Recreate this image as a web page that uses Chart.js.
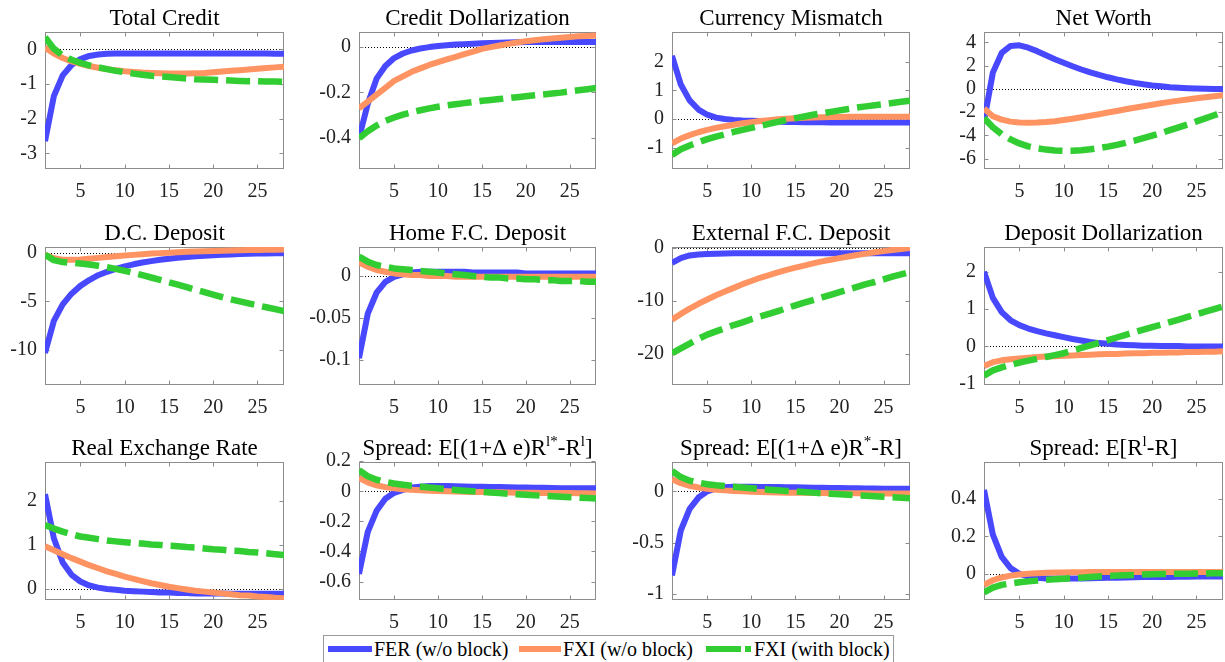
<!DOCTYPE html>
<html>
<head>
<meta charset="utf-8">
<script src="https://cdn.jsdelivr.net/npm/chart.js@4.4.1/dist/chart.umd.min.js"></script>
<style>
  body { margin: 0; background: #fff; width: 1225px; height: 662px; overflow: hidden; position: relative; font-family: 'Liberation Serif', serif; }
  canvas { position: absolute; }
  #legend { position: absolute; left: 323px; top: 635px; width: 569px; height: 26px; border: 1px solid #999; background: #fff; }
  #legend svg { position: absolute; top: 9px; }
  #legend span { position: absolute; top: 2px; font-size: 20px; line-height: 22px; color: #000; white-space: nowrap; }
</style>
</head>
<body>
<div id="legend">
  <svg style="left:4px" width="44" height="8"><line x1="0" y1="4" x2="44" y2="4" stroke="rgb(72,72,255)" stroke-width="6"/></svg>
  <span style="left:50px">FER (w/o block)</span>
  <svg style="left:195px" width="42" height="8"><line x1="0" y1="4" x2="42" y2="4" stroke="rgb(255,148,98)" stroke-width="6"/></svg>
  <span style="left:239px">FXI (w/o block)</span>
  <svg style="left:382px" width="45" height="8"><line x1="0" y1="4" x2="45" y2="4" stroke="rgb(50,205,50)" stroke-width="6" stroke-dasharray="35 4"/></svg>
  <span style="left:430px">FXI (with block)</span>
</div>
<script>
const periods = [1,2,3,4,5,6,7,8,9,10,11,12,13,14,15,16,17,18,19,20,21,22,23,24,25,26,27,28];
const xTicks = [5, 10, 15, 20, 25];

// Total Credit
const totalCreditFER = [-2.65,-1.35,-0.75,-0.45,-0.28,-0.19,-0.15,-0.13,-0.12,-0.12,-0.12,-0.12,-0.12,-0.12,-0.12,-0.12,-0.12,-0.12,-0.12,-0.12,-0.12,-0.12,-0.12,-0.12,-0.12,-0.12,-0.13,-0.13];
const totalCreditFXI = [0.05,-0.12,-0.25,-0.35,-0.42,-0.48,-0.53,-0.57,-0.6,-0.63,-0.65,-0.67,-0.68,-0.69,-0.7,-0.7,-0.7,-0.69,-0.68,-0.66,-0.64,-0.62,-0.6,-0.58,-0.56,-0.54,-0.52,-0.5];
const totalCreditBlock = [0.35,0.02,-0.18,-0.3,-0.39,-0.46,-0.52,-0.57,-0.62,-0.66,-0.7,-0.73,-0.76,-0.78,-0.8,-0.82,-0.84,-0.86,-0.87,-0.88,-0.89,-0.9,-0.91,-0.92,-0.92,-0.93,-0.93,-0.94];
const totalCreditTicks = [-3, -2, -1, 0];
const totalCreditRange = [-3.45, 0.5];

// Credit Dollarization
const creditDollarFER = [-0.4,-0.25,-0.14,-0.085,-0.05,-0.03,-0.017,-0.008,-0.002,0.003,0.006,0.009,0.011,0.013,0.015,0.016,0.017,0.018,0.019,0.02,0.02,0.02,0.02,0.02,0.02,0.02,0.02,0.02];
const creditDollarFXI = [-0.27,-0.24,-0.21,-0.18,-0.15,-0.13,-0.11,-0.095,-0.08,-0.068,-0.056,-0.045,-0.033,-0.022,-0.01,-0.002,0.005,0.012,0.018,0.024,0.028,0.032,0.036,0.039,0.042,0.045,0.047,0.049];
const creditDollarBlock = [-0.4,-0.37,-0.345,-0.325,-0.31,-0.297,-0.287,-0.278,-0.27,-0.263,-0.257,-0.252,-0.247,-0.242,-0.237,-0.233,-0.229,-0.225,-0.221,-0.217,-0.213,-0.209,-0.205,-0.201,-0.196,-0.191,-0.186,-0.181];
const creditDollarTicks = [-0.4, -0.2, 0];
const creditDollarRange = [-0.535, 0.064];

// Currency Mismatch
const mismatchFER = [2.2,1.2,0.65,0.33,0.15,0.05,0.0,-0.03,-0.05,-0.06,-0.07,-0.08,-0.09,-0.1,-0.1,-0.11,-0.11,-0.11,-0.12,-0.12,-0.12,-0.12,-0.12,-0.12,-0.12,-0.12,-0.12,-0.12];
const mismatchFXI = [-0.85,-0.68,-0.56,-0.46,-0.38,-0.31,-0.25,-0.2,-0.15,-0.11,-0.07,-0.04,-0.01,0.01,0.03,0.04,0.05,0.06,0.07,0.07,0.08,0.08,0.08,0.08,0.08,0.08,0.08,0.08];
const mismatchBlock = [-1.25,-1.05,-0.92,-0.81,-0.7,-0.61,-0.53,-0.45,-0.38,-0.31,-0.24,-0.17,-0.1,-0.03,0.03,0.09,0.15,0.2,0.25,0.3,0.35,0.4,0.44,0.48,0.52,0.56,0.6,0.64];
const mismatchTicks = [-1, 0, 1, 2];
const mismatchRange = [-1.74, 3.03];

// Net Worth
const netWorthFER = [-2.8,1.4,3.1,3.7,3.75,3.55,3.25,2.9,2.55,2.25,1.95,1.67,1.42,1.2,1.0,0.82,0.66,0.52,0.4,0.3,0.22,0.15,0.1,0.06,0.03,0.01,0.0,-0.01];
const netWorthFXI = [-1.7,-2.35,-2.65,-2.82,-2.9,-2.92,-2.9,-2.85,-2.78,-2.68,-2.57,-2.45,-2.32,-2.18,-2.04,-1.9,-1.76,-1.62,-1.49,-1.36,-1.24,-1.12,-1.01,-0.91,-0.81,-0.72,-0.63,-0.55];
const netWorthBlock = [-2.5,-3.3,-3.9,-4.35,-4.7,-4.95,-5.12,-5.23,-5.3,-5.33,-5.32,-5.28,-5.2,-5.1,-4.97,-4.82,-4.65,-4.46,-4.25,-4.03,-3.8,-3.56,-3.31,-3.06,-2.8,-2.54,-2.27,-2.0];
const netWorthTicks = [-6, -4, -2, 0, 2, 4];
const netWorthRange = [-6.9, 4.9];

// D.C. Deposit
const dcDepositFER = [-10.3,-7.0,-5.3,-4.2,-3.4,-2.8,-2.3,-1.95,-1.65,-1.4,-1.18,-1.0,-0.85,-0.72,-0.6,-0.5,-0.42,-0.35,-0.29,-0.24,-0.2,-0.16,-0.13,-0.1,-0.08,-0.06,-0.05,-0.04];
const dcDepositFXI = [-0.2,-0.55,-0.7,-0.72,-0.68,-0.6,-0.52,-0.44,-0.36,-0.28,-0.21,-0.14,-0.08,-0.03,0.02,0.06,0.1,0.14,0.17,0.2,0.22,0.24,0.26,0.28,0.3,0.31,0.32,0.33];
const dcDepositBlock = [-0.2,-0.75,-0.95,-1.03,-1.1,-1.2,-1.33,-1.48,-1.65,-1.85,-2.07,-2.3,-2.54,-2.78,-3.03,-3.28,-3.54,-3.8,-4.05,-4.3,-4.55,-4.78,-5.0,-5.2,-5.4,-5.6,-5.8,-6.0];
const dcDepositTicks = [-10, -5, 0];
const dcDepositRange = [-13.6, 0.6];

// Home F.C. Deposit
const homeFcFER = [-0.098,-0.045,-0.02,-0.007,-0.001,0.002,0.004,0.005,0.005,0.005,0.005,0.005,0.005,0.004,0.004,0.004,0.004,0.004,0.004,0.003,0.003,0.003,0.003,0.003,0.003,0.003,0.003,0.003];
const homeFcFXI = [0.016,0.011,0.007,0.005,0.003,0.002,0.001,0.001,0.0,0.0,0.0,-0.001,-0.001,-0.001,-0.001,-0.001,-0.001,-0.001,-0.001,-0.001,-0.001,-0.001,-0.001,-0.001,-0.001,-0.001,-0.001,-0.001];
const homeFcBlock = [0.023,0.017,0.013,0.011,0.009,0.008,0.007,0.006,0.005,0.004,0.003,0.002,0.001,0.0,-0.001,-0.002,-0.002,-0.003,-0.003,-0.004,-0.004,-0.005,-0.005,-0.006,-0.006,-0.006,-0.007,-0.007];
const homeFcTicks = [-0.1, -0.05, 0];
const homeFcRange = [-0.13, 0.0345];

// External F.C. Deposit
const extFcFER = [-2.8,-1.9,-1.4,-1.2,-1.1,-1.05,-1.02,-1.0,-1.0,-1.0,-1.0,-1.0,-1.0,-1.0,-1.0,-1.0,-1.0,-1.0,-1.0,-1.0,-1.0,-1.0,-1.0,-1.0,-1.0,-1.0,-1.0,-1.0];
const extFcFXI = [-13.5,-12.4,-11.4,-10.5,-9.7,-8.9,-8.2,-7.5,-6.8,-6.2,-5.6,-5.1,-4.6,-4.1,-3.7,-3.3,-2.9,-2.5,-2.2,-1.9,-1.6,-1.3,-1.05,-0.8,-0.58,-0.38,-0.18,0.0];
const extFcBlock = [-19.8,-18.9,-18.0,-17.1,-16.3,-15.7,-15.1,-14.5,-14.0,-13.4,-12.9,-12.4,-11.9,-11.3,-10.8,-10.3,-9.8,-9.3,-8.8,-8.3,-7.8,-7.3,-6.8,-6.4,-5.9,-5.4,-4.95,-4.5];
const extFcTicks = [-20, -10, 0];
const extFcRange = [-25.8, 0.2];

// Deposit Dollarization
const depDollarFER = [2.0,1.3,0.92,0.7,0.57,0.48,0.41,0.35,0.3,0.25,0.2,0.16,0.12,0.09,0.07,0.05,0.04,0.03,0.02,0.02,0.01,0.01,0.01,0.0,0.0,0.0,0.0,0.0];
const depDollarFXI = [-0.52,-0.42,-0.37,-0.34,-0.32,-0.3,-0.28,-0.27,-0.26,-0.25,-0.24,-0.23,-0.22,-0.21,-0.2,-0.2,-0.19,-0.18,-0.18,-0.17,-0.17,-0.16,-0.16,-0.15,-0.15,-0.14,-0.14,-0.13];
const depDollarBlock = [-0.78,-0.64,-0.56,-0.49,-0.43,-0.38,-0.33,-0.28,-0.23,-0.18,-0.11,-0.04,0.03,0.1,0.17,0.24,0.31,0.38,0.45,0.52,0.58,0.65,0.72,0.79,0.86,0.93,1.0,1.07];
const depDollarTicks = [-1, 0, 1, 2];
const depDollarRange = [-1.03, 2.66];

// Real Exchange Rate
const rerFER = [2.15,1.15,0.6,0.32,0.17,0.08,0.03,0.0,-0.02,-0.04,-0.05,-0.06,-0.07,-0.08,-0.08,-0.09,-0.09,-0.1,-0.1,-0.1,-0.1,-0.11,-0.11,-0.11,-0.11,-0.11,-0.11,-0.11];
const rerFXI = [0.97,0.88,0.79,0.7,0.62,0.54,0.47,0.4,0.34,0.28,0.23,0.18,0.13,0.09,0.05,0.02,-0.01,-0.04,-0.06,-0.08,-0.1,-0.12,-0.14,-0.15,-0.17,-0.18,-0.2,-0.21];
const rerBlock = [1.45,1.37,1.3,1.24,1.19,1.16,1.13,1.1,1.08,1.06,1.04,1.03,1.01,1.0,0.98,0.97,0.95,0.94,0.92,0.9,0.89,0.87,0.86,0.84,0.83,0.81,0.79,0.77];
const rerTicks = [0, 1, 2];
const rerRange = [-0.25, 2.88];

// Spread on foreign vs. domestic loan rates
const loanSpreadFER = [-0.55,-0.27,-0.13,-0.05,-0.01,0.01,0.025,0.03,0.035,0.035,0.035,0.033,0.032,0.031,0.03,0.029,0.028,0.027,0.026,0.025,0.024,0.023,0.022,0.021,0.021,0.02,0.02,0.02];
const loanSpreadFXI = [0.09,0.06,0.04,0.028,0.02,0.014,0.01,0.007,0.004,0.002,0.0,-0.002,-0.003,-0.004,-0.005,-0.006,-0.007,-0.008,-0.009,-0.01,-0.01,-0.011,-0.011,-0.012,-0.012,-0.013,-0.013,-0.014];
const loanSpreadBlock = [0.14,0.1,0.077,0.062,0.052,0.044,0.037,0.031,0.025,0.02,0.014,0.009,0.004,0.0,-0.004,-0.008,-0.012,-0.016,-0.02,-0.023,-0.027,-0.03,-0.033,-0.036,-0.039,-0.042,-0.045,-0.048];
const loanSpreadTicks = [-0.6, -0.4, -0.2, 0, 0.2];
const loanSpreadRange = [-0.723, 0.195];

// Spread on foreign vs. domestic deposit rates
const depSpreadFER = [-0.82,-0.38,-0.17,-0.06,0.0,0.03,0.04,0.045,0.045,0.045,0.044,0.043,0.042,0.041,0.04,0.038,0.036,0.035,0.033,0.032,0.031,0.03,0.029,0.028,0.027,0.026,0.026,0.025];
const depSpreadFXI = [0.12,0.08,0.055,0.038,0.026,0.017,0.01,0.005,0.001,-0.003,-0.006,-0.008,-0.01,-0.012,-0.013,-0.014,-0.015,-0.016,-0.017,-0.018,-0.018,-0.019,-0.019,-0.02,-0.02,-0.02,-0.021,-0.021];
const depSpreadBlock = [0.2,0.14,0.105,0.085,0.07,0.06,0.052,0.045,0.038,0.031,0.024,0.017,0.011,0.005,0.0,-0.006,-0.012,-0.018,-0.023,-0.028,-0.033,-0.038,-0.043,-0.048,-0.053,-0.058,-0.062,-0.066];
const depSpreadTicks = [-1, -0.5, 0];
const depSpreadRange = [-1.06, 0.287];

// Loan rate over deposit rate
const bankSpreadFER = [0.45,0.21,0.09,0.03,0.0,-0.015,-0.022,-0.025,-0.026,-0.026,-0.025,-0.025,-0.024,-0.023,-0.022,-0.021,-0.02,-0.019,-0.018,-0.018,-0.017,-0.017,-0.016,-0.016,-0.015,-0.015,-0.015,-0.015];
const bankSpreadFXI = [-0.06,-0.035,-0.02,-0.01,-0.004,0.0,0.003,0.005,0.006,0.007,0.008,0.008,0.009,0.009,0.009,0.01,0.01,0.01,0.01,0.01,0.01,0.01,0.01,0.01,0.01,0.01,0.01,0.01];
const bankSpreadBlock = [-0.1,-0.075,-0.06,-0.052,-0.046,-0.041,-0.037,-0.033,-0.03,-0.027,-0.024,-0.021,-0.018,-0.015,-0.012,-0.01,-0.008,-0.006,-0.004,-0.003,-0.002,-0.001,0.0,0.0,0.001,0.001,0.002,0.002];
const bankSpreadTicks = [0, 0.2, 0.4];
const bankSpreadRange = [-0.141, 0.6];

const panels = [
  { title: 'Total Credit', series: [totalCreditFER, totalCreditFXI, totalCreditBlock], ticks: totalCreditTicks, range: totalCreditRange },
  { title: 'Credit Dollarization', series: [creditDollarFER, creditDollarFXI, creditDollarBlock], ticks: creditDollarTicks, range: creditDollarRange },
  { title: 'Currency Mismatch', series: [mismatchFER, mismatchFXI, mismatchBlock], ticks: mismatchTicks, range: mismatchRange },
  { title: 'Net Worth', series: [netWorthFER, netWorthFXI, netWorthBlock], ticks: netWorthTicks, range: netWorthRange },
  { title: 'D.C. Deposit', series: [dcDepositFER, dcDepositFXI, dcDepositBlock], ticks: dcDepositTicks, range: dcDepositRange },
  { title: 'Home F.C. Deposit', series: [homeFcFER, homeFcFXI, homeFcBlock], ticks: homeFcTicks, range: homeFcRange },
  { title: 'External F.C. Deposit', series: [extFcFER, extFcFXI, extFcBlock], ticks: extFcTicks, range: extFcRange },
  { title: 'Deposit Dollarization', series: [depDollarFER, depDollarFXI, depDollarBlock], ticks: depDollarTicks, range: depDollarRange },
  { title: 'Real Exchange Rate', series: [rerFER, rerFXI, rerBlock], ticks: rerTicks, range: rerRange },
  { title: 'Spread: E[(1+Δ e)R^{l*}-R^{l}]', series: [loanSpreadFER, loanSpreadFXI, loanSpreadBlock], ticks: loanSpreadTicks, range: loanSpreadRange },
  { title: 'Spread: E[(1+Δ e)R^{*}-R]', series: [depSpreadFER, depSpreadFXI, depSpreadBlock], ticks: depSpreadTicks, range: depSpreadRange },
  { title: 'Spread: E[R^{l}-R]', series: [bankSpreadFER, bankSpreadFXI, bankSpreadBlock], ticks: bankSpreadTicks, range: bankSpreadRange }
];

const lineStyles = [
  { color: 'rgb(72,72,255)', width: 6, dash: [], order: 3 },
  { color: 'rgb(255,148,98)', width: 6, dash: [], order: 2 },
  { color: 'rgb(50,205,50)', width: 6.5, dash: [24, 8], order: 1 }
];

const FONT = '"Liberation Serif", "Times New Roman", serif';
const colLeft = [45, 359, 672, 984];
const colWidth = [239, 237, 238, 239];
const rowTop = [32, 247, 462];
const rowHeight = [137, 138, 138];
const AXIS_W = 58, TITLE_H = 34, XAXIS_H = 36, PAD_R = 6, TICK_LEN = 4;

// split "R^{l*}" style titles into normal and superscript runs
function titleRuns(s) {
  const runs = [];
  const re = /\^\{([^}]*)\}/g;
  let last = 0, m;
  while ((m = re.exec(s))) {
    if (m.index > last) runs.push({ t: s.slice(last, m.index), sup: false });
    runs.push({ t: m[1], sup: true });
    last = re.lastIndex;
  }
  if (last < s.length) runs.push({ t: s.slice(last), sup: false });
  return runs;
}

// box, inward ticks, dotted zero line and title
const framePlugin = {
  id: 'frame',
  beforeDatasetsDraw(chart, args, opts) {
    const { ctx, chartArea: a, scales: { x, y } } = chart;
    ctx.save();
    ctx.strokeStyle = '#000';
    ctx.lineWidth = 1;
    ctx.setLineDash([1, 2]);
    const y0 = Math.round(y.getPixelForValue(0)) + 0.5;
    ctx.beginPath(); ctx.moveTo(a.left, y0); ctx.lineTo(a.right, y0); ctx.stroke();
    ctx.setLineDash([]);
    ctx.strokeStyle = '#8c8c8c';
    const L = Math.round(a.left) + 0.5, R = Math.round(a.right) - 0.5;
    const T = Math.round(a.top) + 0.5, B = Math.round(a.bottom) - 0.5;
    ctx.strokeRect(L, T, R - L, B - T);
    ctx.beginPath();
    xTicks.forEach(v => {
      const px = Math.round(x.getPixelForValue(v)) + 0.5;
      ctx.moveTo(px, B); ctx.lineTo(px, B - TICK_LEN);
      ctx.moveTo(px, T); ctx.lineTo(px, T + TICK_LEN);
    });
    opts.ticks.forEach(v => {
      const py = Math.round(y.getPixelForValue(v)) + 0.5;
      ctx.moveTo(L, py); ctx.lineTo(L + TICK_LEN, py);
      ctx.moveTo(R, py); ctx.lineTo(R - TICK_LEN, py);
    });
    ctx.stroke();
    ctx.restore();
  },
  afterDraw(chart, args, opts) {
    const { ctx, chartArea: a } = chart;
    const runs = titleRuns(opts.title);
    const big = '23px ' + FONT, small = '15px ' + FONT;
    ctx.save();
    let w = 0;
    runs.forEach(r => { ctx.font = r.sup ? small : big; r.w = ctx.measureText(r.t).width; w += r.w; });
    let cx = (a.left + a.right) / 2 - w / 2;
    const base = a.top - 7;
    ctx.fillStyle = '#000';
    ctx.textAlign = 'left';
    ctx.textBaseline = 'alphabetic';
    runs.forEach(r => {
      ctx.font = r.sup ? small : big;
      ctx.fillText(r.t, cx, r.sup ? base - 9 : base);
      cx += r.w;
    });
    ctx.restore();
  }
};

function fmt(v) {
  return String(Math.round(v * 1000) / 1000);
}

panels.forEach((p, i) => {
  const r = Math.floor(i / 4), c = i % 4;
  const canvas = document.createElement('canvas');
  canvas.width = AXIS_W + colWidth[c] + PAD_R;
  canvas.height = TITLE_H + rowHeight[r] + XAXIS_H;
  canvas.style.left = (colLeft[c] - AXIS_W) + 'px';
  canvas.style.top = (rowTop[r] - TITLE_H) + 'px';
  document.body.appendChild(canvas);

  new Chart(canvas, {
    type: 'line',
    data: {
      datasets: p.series.map((s, k) => ({
        data: periods.map((t, j) => ({ x: t, y: s[j] })),
        borderColor: lineStyles[k].color,
        borderWidth: lineStyles[k].width,
        borderDash: lineStyles[k].dash,
        order: lineStyles[k].order,
        borderJoinStyle: 'round',
        pointRadius: 0,
        tension: 0,
        fill: false
      }))
    },
    options: {
      responsive: false,
      animation: false,
      devicePixelRatio: 1,
      layout: { padding: { top: TITLE_H, right: PAD_R, left: 0, bottom: 0 } },
      plugins: {
        legend: { display: false },
        tooltip: { enabled: false },
        frame: { title: p.title, ticks: p.ticks }
      },
      scales: {
        x: {
          type: 'linear', min: 1, max: 28,
          grid: { display: false, drawTicks: false },
          border: { display: false },
          afterBuildTicks: s => { s.ticks = xTicks.map(v => ({ value: v })); },
          afterFit: s => { s.height = XAXIS_H; },
          ticks: { font: { family: FONT, size: 20 }, color: '#222', padding: 11, maxRotation: 0, autoSkip: false }
        },
        y: {
          min: p.range[0], max: p.range[1],
          grid: { display: false, drawTicks: false },
          border: { display: false },
          afterBuildTicks: s => { s.ticks = p.ticks.map(v => ({ value: v })); },
          afterFit: s => { s.width = AXIS_W; },
          ticks: { font: { family: FONT, size: 20 }, color: '#222', padding: 8, autoSkip: false, callback: v => fmt(v) }
        }
      }
    },
    plugins: [framePlugin]
  });
});
</script>
</body>
</html>
